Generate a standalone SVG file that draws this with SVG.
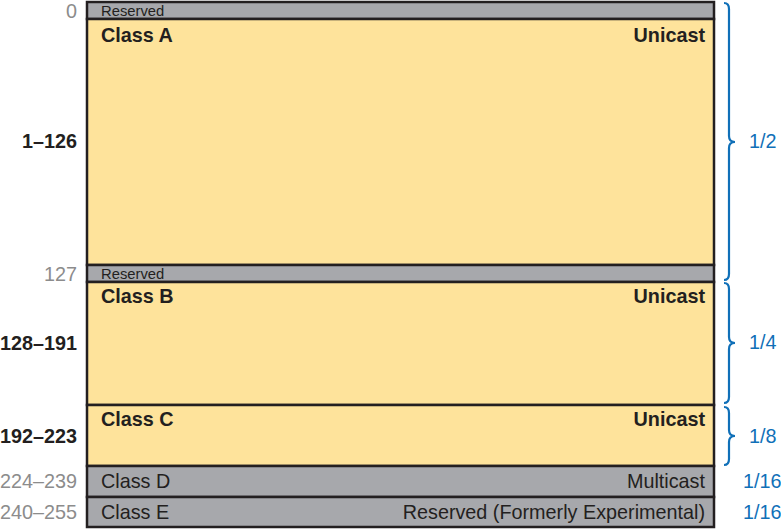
<svg xmlns="http://www.w3.org/2000/svg" width="781" height="530" viewBox="0 0 781 530">
<style>
.y{fill:#fee39b;stroke:#231f20;stroke-width:2.5}
.g{fill:#a7a8ac;stroke:#231f20;stroke-width:2.5}
text{font-family:"Liberation Sans",Arial,sans-serif}
.b{font-size:19.8px;font-weight:bold;fill:#231f20}
.n{font-size:19.8px;fill:#231f20}
.s{font-size:14.8px;fill:#231f20}
.lg{font-size:19.8px;fill:#8c8c8c;text-anchor:end}
.lb{font-size:19.8px;font-weight:bold;fill:#231f20;text-anchor:end}
.f{font-size:19.8px;fill:#1070b8}
.r{text-anchor:end}
.br{fill:none;stroke:#1070b8;stroke-width:2.2}
</style>
<rect width="781" height="530" fill="#fff"/>
<g id="reserved0"><rect class="g" x="87" y="2" width="627" height="17"/><text class="s" x="101" y="16">Reserved</text></g>
<g id="classA"><rect class="y" x="87" y="19" width="627" height="246"/><text class="b" x="101" y="42">Class A</text><text class="b r" x="705" y="42">Unicast</text></g>
<g id="reserved127"><rect class="g" x="87" y="265" width="627" height="17"/><text class="s" x="101" y="279">Reserved</text></g>
<g id="classB"><rect class="y" x="87" y="282" width="627" height="123"/><text class="b" x="101" y="303">Class B</text><text class="b r" x="705" y="303">Unicast</text></g>
<g id="classC"><rect class="y" x="87" y="405" width="627" height="61"/><text class="b" x="101" y="426">Class C</text><text class="b r" x="705" y="426">Unicast</text></g>
<g id="classD"><rect class="g" x="87" y="466" width="627" height="31"/><text class="n" x="101" y="488">Class D</text><text class="n r" x="705" y="488">Multicast</text></g>
<g id="classE"><rect class="g" x="87" y="497" width="627" height="30"/><text class="n" x="101" y="519">Class E</text><text class="n r" x="705" y="519">Reserved (Formerly Experimental)</text></g>
<g id="ranges">
<text class="lg" x="77" y="18">0</text>
<text class="lb" x="77" y="148">1–126</text>
<text class="lg" x="77" y="281">127</text>
<text class="lb" x="77" y="350">128–191</text>
<text class="lb" x="77" y="443">192–223</text>
<text class="lg" x="77" y="488">224–239</text>
<text class="lg" x="77" y="519">240–255</text>
</g>
<g id="connectors">
<path class="br" d="M724 3 Q729 3 729 9 L729 136 Q729 142 735 142 Q729 142 729 148 L729 274 Q729 280 724 280"/>
<path class="br" d="M724 283 Q729 283 729 289 L729 337 Q729 343 735 343 Q729 343 729 349 L729 397 Q729 403 724 403"/>
<path class="br" d="M724 407 Q729 407 729 413 L729 430 Q729 436 735 436 Q729 436 729 442 L729 459 Q729 465 724 465"/>
</g>
<g id="fractions">
<text class="f" x="749" y="148">1/2</text>
<text class="f" x="749" y="349">1/4</text>
<text class="f" x="749" y="443">1/8</text>
<text class="f" x="743" y="488">1/16</text>
<text class="f" x="743" y="519">1/16</text>
</g>
</svg>
